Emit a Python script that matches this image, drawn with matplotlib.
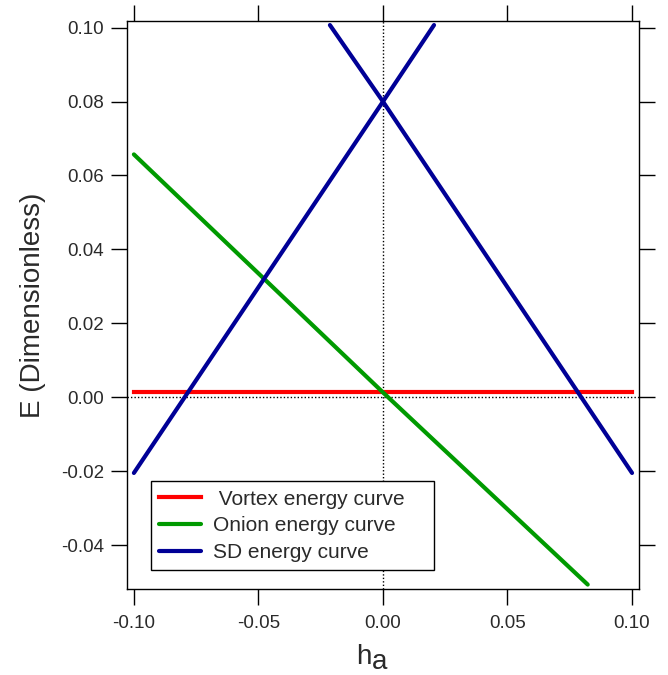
import matplotlib
matplotlib.use('Agg')
import matplotlib.pyplot as plt

plt.rcParams['font.family'] = ['Liberation Sans', 'DejaVu Sans']

# --- energy curves vs applied field ---
ha_vortex = [-0.1, 0.1]
E_vortex = [0.0013, 0.0013]

ha_onion = [-0.1, 0.0, 0.0822]
E_onion = [0.0657, 0.0013, -0.0507]

ha_sd_up = [-0.1, 0.0, 0.0205]
E_sd_up = [-0.0205, 0.080, 0.1007]
ha_sd_down = [-0.0213, 0.0, 0.1]
E_sd_down = [0.1007, 0.080, -0.0205]

labels = [' Vortex energy curve', 'Onion energy curve', 'SD energy curve']
xticks = [-0.10, -0.05, 0.00, 0.05, 0.10]
yticks = [-0.04, -0.02, 0.00, 0.02, 0.04, 0.06, 0.08, 0.10]

RED, GREEN, BLUE = '#ff0000', '#009a00', '#000096'
TXT = '#2a2a2a'

fig = plt.figure(figsize=(6.68, 6.75), dpi=100)
ax = fig.add_axes([0.190, 0.1274, 0.7666, 0.8415])

ax.axvline(0, color='black', lw=1, ls=(0, (1, 1.5)), zorder=1)
ax.axhline(0, color='black', lw=1, ls=(0, (1, 1.5)), zorder=1)

ax.plot(ha_vortex, E_vortex, color=RED, lw=3, label=labels[0], zorder=3)
ax.plot(ha_onion, E_onion, color=GREEN, lw=3, label=labels[1], zorder=3,
        solid_capstyle='round')
ax.plot(ha_sd_up, E_sd_up, color=BLUE, lw=3, label=labels[2], zorder=3,
        solid_capstyle='round')
ax.plot(ha_sd_down, E_sd_down, color=BLUE, lw=3, zorder=3,
        solid_capstyle='round')

ax.set_xlim(-0.1028, 0.1028)
ax.set_ylim(-0.0519, 0.1018)
ax.set_xticks(xticks)
ax.set_xticklabels([f'{v:.2f}' for v in xticks])
ax.set_yticks(yticks)
ax.set_yticklabels([f'{v:.2f}' for v in yticks])

for sp in ax.spines.values():
    sp.set_linewidth(1.0)
ax.tick_params(which='major', direction='out', length=11.5, width=1.0,
               top=True, right=True, labelsize=13.5, labelcolor=TXT)
ax.tick_params(axis='x', pad=7)
ax.tick_params(axis='y', pad=5)

ax.set_ylabel('E (Dimensionless)', fontsize=20, color=TXT, labelpad=11)

# axis title h with a full-size, lowered "a"
fig.text(371 / 668, (675 - 664) / 675, 'h', fontsize=20, color=TXT,
         ha='right', va='baseline')
fig.text(372 / 668, (675 - 669) / 675, 'a', fontsize=20, color=TXT,
         ha='left', va='baseline')

leg = ax.legend(loc='lower left', bbox_to_anchor=(0.047, 0.033, 0.553, 0.17),
                mode='expand', fontsize=15, frameon=True, fancybox=False,
                framealpha=1, edgecolor='black', handlelength=2.0,
                handletextpad=0.6, labelspacing=0.37, borderpad=0.4,
                borderaxespad=0)
leg.get_frame().set_linewidth(1.0)
for t in leg.get_texts():
    t.set_color(TXT)

fig.savefig('out.png', dpi=100)
